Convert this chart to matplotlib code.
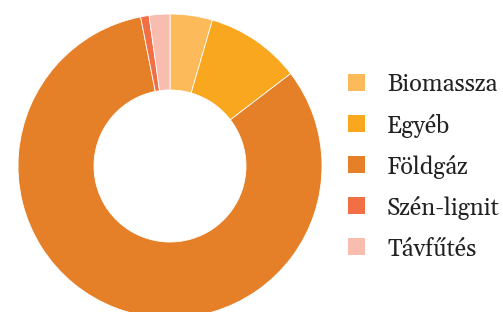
import matplotlib
matplotlib.use("Agg")
import matplotlib.pyplot as plt
from matplotlib.patches import Rectangle

labels = ["Biomassza", "Egyéb", "Földgáz", "Szén-lignit", "Távfűtés"]
values = [4.5, 10.1, 82.3, 0.9, 2.2]
colors = ["#FDBA5B", "#F9A71F", "#E57F28", "#F26E45", "#F9BDB0"]

W, H = 503, 312
fig = plt.figure(figsize=(W / 100, H / 100), dpi=100)
cx, cy, r = 170, 166, 152
ax = fig.add_axes([(cx - r) / W, (H - cy - r) / H, 2 * r / W, 2 * r / H])
ax.pie(values, colors=colors, startangle=90, counterclock=False, radius=1,
       wedgeprops=dict(width=0.5, edgecolor="white", linewidth=0.6))
ax.set_xlim(-1, 1)
ax.set_ylim(-1, 1)
ax.set_aspect("equal")
ax.axis("off")

y0, dy = 82, 41.2
for i, (lab, col) in enumerate(zip(labels, colors)):
    y = y0 + i * dy
    fig.patches.append(Rectangle((348 / W, 1 - (y + 8.5) / H), 17 / W, 17 / H,
                                 transform=fig.transFigure, facecolor=col, edgecolor="none"))
    fig.text(387 / W, 1 - y / H, lab, fontsize=17, family=["Gelasio", "DejaVu Serif"],
             color="#222222", va="center_baseline", ha="left")

fig.savefig("out.png", dpi=100)
